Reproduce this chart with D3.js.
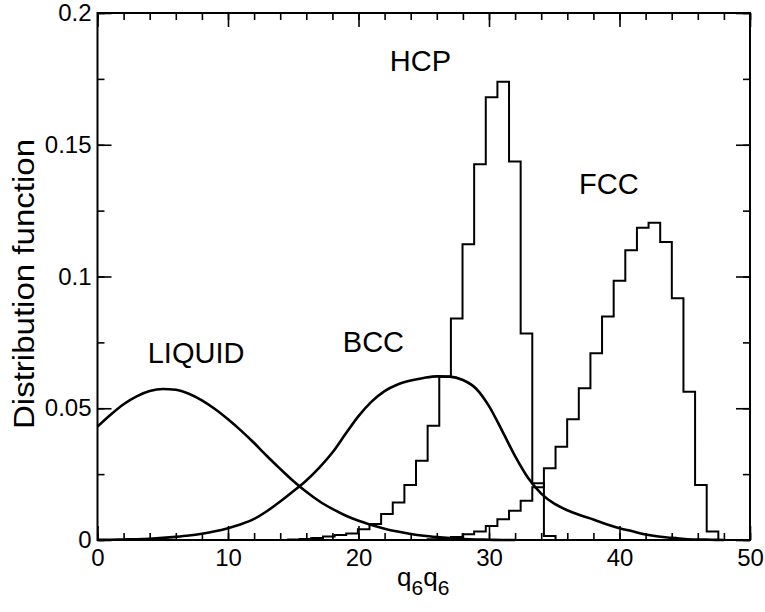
<!DOCTYPE html>
<html>
<head>
<meta charset="utf-8">
<script src="https://cdn.jsdelivr.net/npm/d3@7"></script>
<style>
  html, body { margin: 0; padding: 0; background: #fff; }
  svg { display: block; font-family: "Liberation Sans", Arial, Helvetica, sans-serif; }
</style>
</head>
<body>
<svg id="chart" width="765" height="612"></svg>
<script>
// Histogram bin grid shared by the HCP and FCC distributions
const binOrigin = 0.35;
const binWidth = 0.891;

// HCP histogram: first bin index and heights
const hcpFirstBin = 16;
const hcpValues = [0.0002, 0.0004, 0.0008, 0.0013, 0.0019, 0.0025, 0.0041, 0.0061,
  0.0099, 0.0142, 0.0209, 0.0301, 0.0434, 0.0620, 0.0841, 0.1122, 0.1426, 0.1680,
  0.1739, 0.1436, 0.0784, 0.0215, 0.0015];

// FCC histogram: first bin index and heights
const fccFirstBin = 28;
const fccValues = [0.0003, 0.0006, 0.0011, 0.0022, 0.0032, 0.0053, 0.0079, 0.0111,
  0.0149, 0.0200, 0.0272, 0.0354, 0.0458, 0.0576, 0.0709, 0.0848, 0.0984, 0.1100,
  0.1185, 0.1204, 0.1131, 0.0917, 0.0563, 0.0209, 0.0032];

// Smooth distributions sampled at q6q6 = 0, 1, 2, ...
const liquidX = d3.range(0, 33);
const liquidValues = [0.0430, 0.0475, 0.0515, 0.0545, 0.0565, 0.0573, 0.0570, 0.0555,
  0.0530, 0.0497, 0.0458, 0.0415, 0.0368, 0.0318, 0.0270, 0.0224, 0.0183, 0.0147,
  0.0118, 0.0093, 0.0073, 0.0057, 0.0043, 0.0032, 0.0023, 0.0016, 0.0011, 0.0007,
  0.0004, 0.0002, 0.0001, 0.0000, 0.0000];

const bccX = d3.range(0, 49);
const bccValues = [0.0001, 0.0001, 0.0002, 0.0003, 0.0005, 0.0008, 0.0012, 0.0017,
  0.0024, 0.0033, 0.0045, 0.0060, 0.0080, 0.0110, 0.0146, 0.0185, 0.0226, 0.0275,
  0.0332, 0.0402, 0.0470, 0.0525, 0.0565, 0.0590, 0.0605, 0.0615, 0.0621, 0.0620,
  0.0607, 0.0575, 0.0508, 0.0415, 0.0318, 0.0235, 0.0176, 0.0138, 0.0113, 0.0094,
  0.0078, 0.0060, 0.0045, 0.0033, 0.0021, 0.0013, 0.0008, 0.0004, 0.0002, 0.0001, 0.0000];

// Axis ticks
const xMajor = [0, 10, 20, 30, 40, 50];
const xTickLabels = ["0", "10", "20", "30", "40", "50"];
const xMinor = d3.range(0, 51, 2);
const yMajor = [0, 0.05, 0.1, 0.15, 0.2];
const yTickLabels = ["0", "0.05", "0.1", "0.15", "0.2"];
const yMinor = [0, 0.025, 0.05, 0.075, 0.1, 0.125, 0.15, 0.175, 0.2];

// Curve labels
const labels = [
  { text: "LIQUID", x: 3.85, y: 0.0673 },
  { text: "BCC", x: 18.8, y: 0.0715 },
  { text: "HCP", x: 22.4, y: 0.1778 },
  { text: "FCC", x: 36.9, y: 0.1314 }
];

const svg = d3.select("#chart");
const plotLeft = 97.5, plotRight = 750, plotTop = 13, plotBottom = 540;

const x = d3.scaleLinear().domain([0, 50]).range([plotLeft, plotRight]);
const y = d3.scaleLinear().domain([0, 0.2]).range([plotBottom, plotTop]);

// Minor ticks (all four sides, pointing inward)
const minorLen = 7, majorLen = 14;
svg.append("g").attr("transform", `translate(0,${plotBottom})`)
  .call(d3.axisBottom(x).tickValues(xMinor).tickSize(-minorLen).tickFormat(""));
svg.append("g").attr("transform", `translate(0,${plotTop})`)
  .call(d3.axisTop(x).tickValues(xMinor).tickSize(-minorLen).tickFormat(""));
svg.append("g").attr("transform", `translate(${plotLeft},0)`)
  .call(d3.axisLeft(y).tickValues(yMinor).tickSize(-minorLen).tickFormat(""));
svg.append("g").attr("transform", `translate(${plotRight},0)`)
  .call(d3.axisRight(y).tickValues(yMinor).tickSize(-minorLen).tickFormat(""));

// Major ticks with labels
svg.append("g").attr("transform", `translate(0,${plotBottom})`)
  .call(d3.axisBottom(x).tickValues(xMajor).tickSize(-majorLen).tickPadding(9)
    .tickFormat((d, i) => xTickLabels[i]));
svg.append("g").attr("transform", `translate(0,${plotTop})`)
  .call(d3.axisTop(x).tickValues(xMajor).tickSize(-majorLen).tickFormat(""));
svg.append("g").attr("transform", `translate(${plotLeft},0)`)
  .call(d3.axisLeft(y).tickValues(yMajor).tickSize(-majorLen).tickPadding(6)
    .tickFormat((d, i) => yTickLabels[i]));
svg.append("g").attr("transform", `translate(${plotRight},0)`)
  .call(d3.axisRight(y).tickValues(yMajor).tickSize(-majorLen).tickFormat(""));

svg.selectAll(".domain").remove();
svg.selectAll(".tick line").attr("stroke", "#000").attr("stroke-width", 1.6);
svg.selectAll(".tick text").attr("fill", "#000").style("font-size", "24px");

// Histograms drawn as step outlines
function stepPoints(firstBin, values) {
  const pts = [[binOrigin + firstBin * binWidth, 0]];
  values.forEach((v, i) => pts.push([binOrigin + (firstBin + i) * binWidth, v]));
  pts.push([binOrigin + (firstBin + values.length) * binWidth, 0]);
  return pts;
}
const stepLine = d3.line().x(d => x(d[0])).y(d => y(d[1])).curve(d3.curveStepAfter);
const smoothLine = d3.line().x(d => x(d[0])).y(d => y(d[1])).curve(d3.curveMonotoneX);

const plot = svg.append("g").attr("fill", "none").attr("stroke", "#000");

plot.append("path").attr("stroke-width", 2)
  .attr("d", stepLine(stepPoints(hcpFirstBin, hcpValues)));
plot.append("path").attr("stroke-width", 2)
  .attr("d", stepLine(stepPoints(fccFirstBin, fccValues)));
plot.append("path").attr("stroke-width", 2.6)
  .attr("d", smoothLine(liquidX.map((d, i) => [d, liquidValues[i]])));
plot.append("path").attr("stroke-width", 2.6)
  .attr("d", smoothLine(bccX.map((d, i) => [d, bccValues[i]])));

// Frame
svg.append("rect")
  .attr("x", plotLeft).attr("y", plotTop)
  .attr("width", plotRight - plotLeft).attr("height", plotBottom - plotTop)
  .attr("fill", "none").attr("stroke", "#000").attr("stroke-width", 2);

// Curve labels
svg.append("g").selectAll("text").data(labels).join("text")
  .attr("x", d => x(d.x)).attr("y", d => y(d.y))
  .style("font-size", "29px").attr("fill", "#000")
  .text(d => d.text);

// Axis titles
const xt = svg.append("text")
  .attr("x", 397).attr("y", 586)
  .style("font-size", "26px").attr("fill", "#000");
xt.append("tspan").text("q");
xt.append("tspan").attr("dy", 9).style("font-size", "21px").text("6");
xt.append("tspan").attr("dy", -9).text("q");
xt.append("tspan").attr("dy", 9).style("font-size", "21px").text("6");

svg.append("text")
  .attr("transform", `translate(34,284) rotate(-90)`)
  .attr("text-anchor", "middle")
  .attr("textLength", 290)
  .attr("lengthAdjust", "spacingAndGlyphs")
  .style("font-size", "29px").attr("fill", "#000")
  .text("Distribution function");
</script>
</body>
</html>
